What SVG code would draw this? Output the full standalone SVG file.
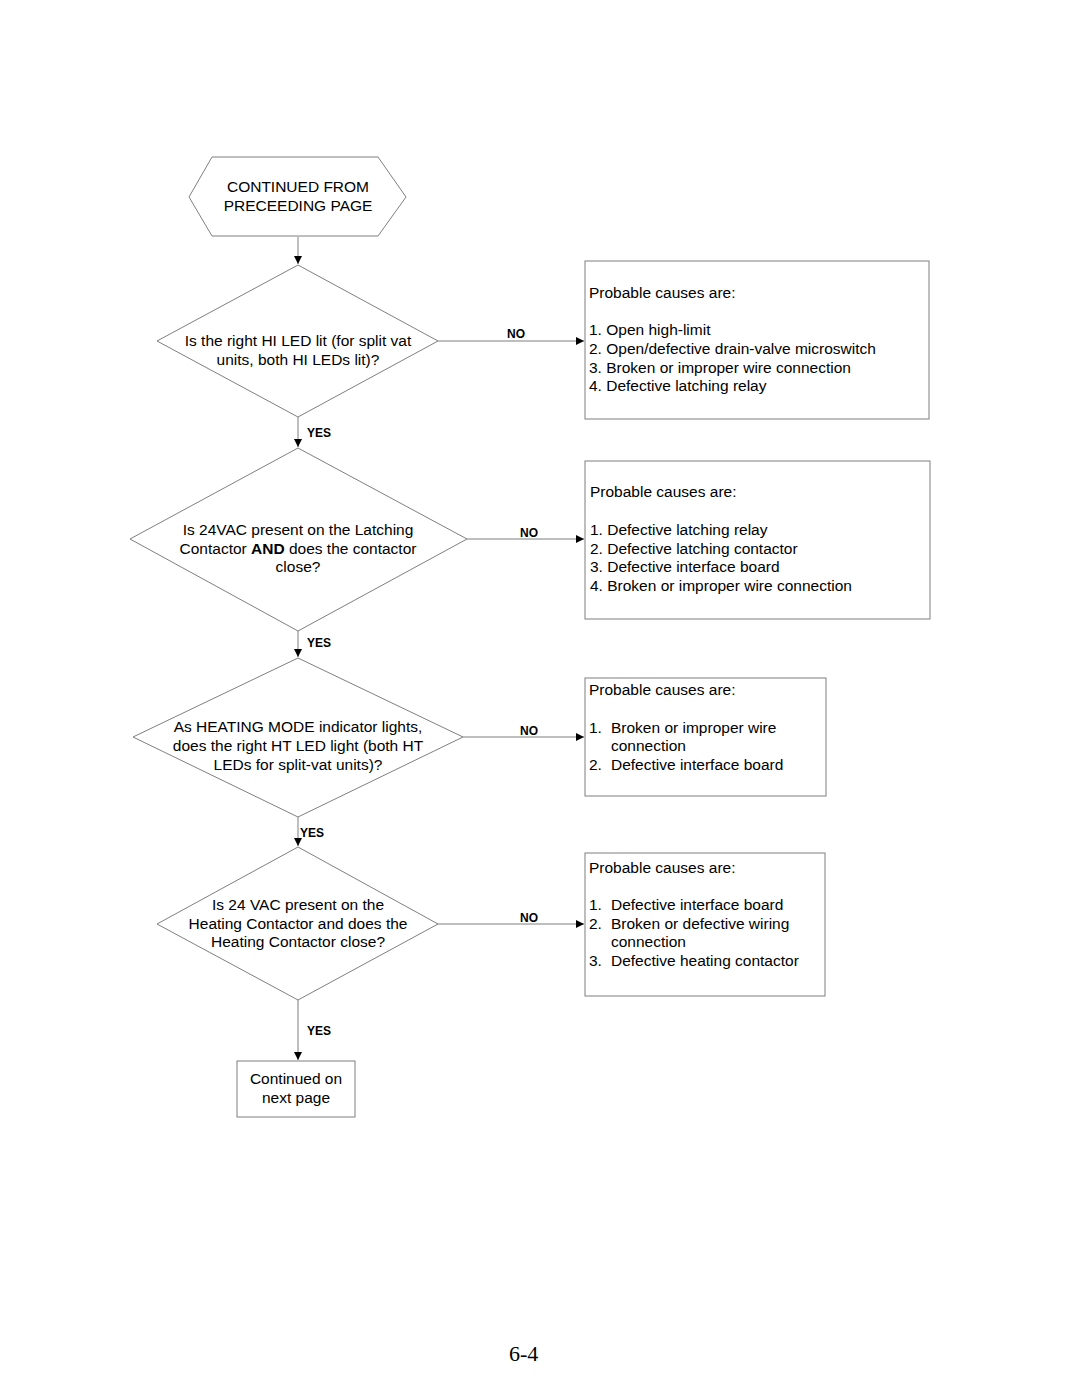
<svg xmlns="http://www.w3.org/2000/svg" width="1080" height="1397" viewBox="0 0 1080 1397">
<defs>
<style>
.shape{fill:#fff;stroke:#7f7f7f;stroke-width:1}
.conn{fill:none;stroke:#7f7f7f;stroke-width:1}
.t{font-family:"Liberation Sans",Arial,sans-serif;font-size:15.5px;fill:#000}
.c{text-anchor:middle}
.lbl{font-family:"Liberation Sans",Arial,sans-serif;font-size:12px;font-weight:bold;fill:#000}
.pg{font-family:"Liberation Serif","Times New Roman",serif;font-size:22px;fill:#000}
</style>
<marker id="arr" viewBox="0 0 10 10" refX="10" refY="5" markerWidth="8" markerHeight="8" markerUnits="userSpaceOnUse" orient="auto">
<path d="M0,0 L10,5 L0,10 z" fill="#000"/>
</marker>
</defs>
<rect width="1080" height="1397" fill="#fff"/>

<g id="connectors">
<line class="conn" x1="298" y1="237" x2="298" y2="264" marker-end="url(#arr)"/>
<line class="conn" x1="438" y1="341" x2="584" y2="341" marker-end="url(#arr)"/>
<line class="conn" x1="298" y1="417" x2="298" y2="447" marker-end="url(#arr)"/>
<line class="conn" x1="467" y1="539" x2="584" y2="539" marker-end="url(#arr)"/>
<line class="conn" x1="298" y1="631" x2="298" y2="657" marker-end="url(#arr)"/>
<line class="conn" x1="463" y1="737" x2="584" y2="737" marker-end="url(#arr)"/>
<line class="conn" x1="298" y1="817" x2="298" y2="846" marker-end="url(#arr)"/>
<line class="conn" x1="438" y1="924" x2="584" y2="924" marker-end="url(#arr)"/>
<line class="conn" x1="298" y1="1000" x2="298" y2="1060" marker-end="url(#arr)"/>
<text class="lbl" x="507" y="338">NO</text>
<text class="lbl" x="307" y="437">YES</text>
<text class="lbl" x="520" y="537">NO</text>
<text class="lbl" x="307" y="647">YES</text>
<text class="lbl" x="520" y="735">NO</text>
<text class="lbl" x="300" y="837">YES</text>
<text class="lbl" x="520" y="922">NO</text>
<text class="lbl" x="307" y="1035">YES</text>
</g>

<g id="start">
<polygon class="shape" points="212,157 378,157 406,197 378,236 212,236 189,197"/>
<text class="t c" x="298" y="192">CONTINUED FROM</text>
<text class="t c" x="298" y="211">PRECEEDING PAGE</text>
</g>

<g id="d1">
<polygon class="shape" points="298,265 438,341 298,417 157,341"/>
<text class="t c" x="298" y="346">Is the right HI LED lit (for split vat</text>
<text class="t c" x="298" y="365">units, both HI LEDs lit)?</text>
</g>

<g id="b1">
<rect class="shape" x="585" y="261" width="344" height="158"/>
<text class="t" x="589" y="298">Probable causes are:</text>
<text class="t" x="589" y="335">1. Open high-limit</text>
<text class="t" x="589" y="354">2. Open/defective drain-valve microswitch</text>
<text class="t" x="589" y="373">3. Broken or improper wire connection</text>
<text class="t" x="589" y="391">4. Defective latching relay</text>
</g>

<g id="d2">
<polygon class="shape" points="298,448 467,539 298,631 130,539"/>
<text class="t c" x="298" y="535">Is 24VAC present on the Latching</text>
<text class="t c" x="298" y="554">Contactor <tspan font-weight="bold">AND</tspan> does the contactor</text>
<text class="t c" x="298" y="572">close?</text>
</g>

<g id="b2">
<rect class="shape" x="585" y="461" width="345" height="158"/>
<text class="t" x="590" y="497">Probable causes are:</text>
<text class="t" x="590" y="535">1. Defective latching relay</text>
<text class="t" x="590" y="554">2. Defective latching contactor</text>
<text class="t" x="590" y="572">3. Defective interface board</text>
<text class="t" x="590" y="591">4. Broken or improper wire connection</text>
</g>

<g id="d3">
<polygon class="shape" points="298,658 463,737 298,817 133,737"/>
<text class="t c" x="298" y="732">As HEATING MODE indicator lights,</text>
<text class="t c" x="298" y="751">does the right HT LED light (both HT</text>
<text class="t c" x="298" y="770">LEDs for split-vat units)?</text>
</g>

<g id="b3">
<rect class="shape" x="585" y="678" width="241" height="118"/>
<text class="t" x="589" y="695">Probable causes are:</text>
<text class="t" x="589" y="733">1.</text>
<text class="t" x="611" y="733">Broken or improper wire</text>
<text class="t" x="611" y="751">connection</text>
<text class="t" x="589" y="770">2.</text>
<text class="t" x="611" y="770">Defective interface board</text>
</g>

<g id="d4">
<polygon class="shape" points="298,847 438,924 298,1000 157,924"/>
<text class="t c" x="298" y="910">Is 24 VAC present on the</text>
<text class="t c" x="298" y="929">Heating Contactor and does the</text>
<text class="t c" x="298" y="947">Heating Contactor close?</text>
</g>

<g id="b4">
<rect class="shape" x="585" y="853" width="240" height="143"/>
<text class="t" x="589" y="873">Probable causes are:</text>
<text class="t" x="589" y="910">1.</text>
<text class="t" x="611" y="910">Defective interface board</text>
<text class="t" x="589" y="929">2.</text>
<text class="t" x="611" y="929">Broken or defective wiring</text>
<text class="t" x="611" y="947">connection</text>
<text class="t" x="589" y="966">3.</text>
<text class="t" x="611" y="966">Defective heating contactor</text>
</g>

<g id="end">
<rect class="shape" x="237" y="1061" width="118" height="56"/>
<text class="t c" x="296" y="1084">Continued on</text>
<text class="t c" x="296" y="1103">next page</text>
</g>

<text class="pg" x="509" y="1361">6-4</text>
</svg>
